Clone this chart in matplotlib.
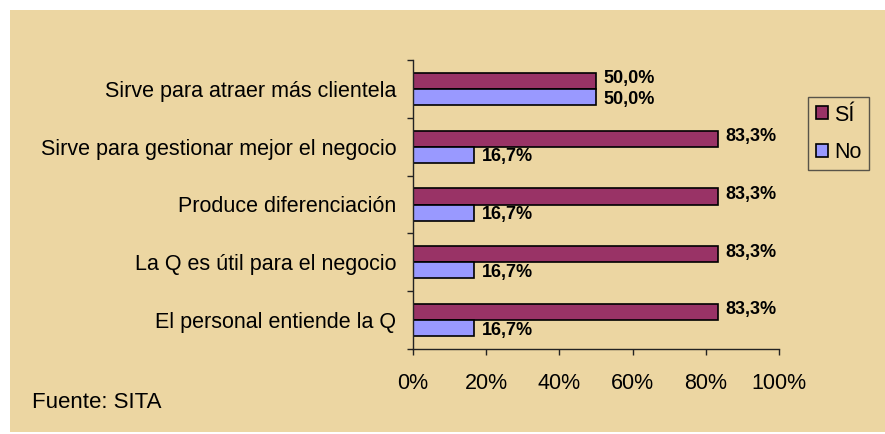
import matplotlib
matplotlib.use('Agg')
import matplotlib.pyplot as plt
import numpy as np
from matplotlib.patches import Rectangle

plt.rcParams['font.family'] = ['Liberation Sans', 'DejaVu Sans']

# datos
categorias = [
    'Sirve para atraer más clientela',
    'Sirve para gestionar mejor el negocio',
    'Produce diferenciación',
    'La Q es útil para el negocio',
    'El personal entiende la Q',
]
si = [50.0, 83.3, 83.3, 83.3, 83.3]
no = [50.0, 16.7, 16.7, 16.7, 16.7]
series = ['SÍ', 'No']
xticks = [0, 20, 40, 60, 80, 100]

fig = plt.figure(figsize=(8.85, 4.34), dpi=100, facecolor='white')

# fondo tipo papiro
fig.patches.append(Rectangle((10 / 885, 2 / 434), 1 - 10 / 885, 1 - 12 / 434,
                             transform=fig.transFigure, facecolor='#ECD6A2',
                             edgecolor='none', zorder=-1))

ax = fig.add_axes([413 / 885, 1 - 349 / 434, (779 - 413) / 885, (349 - 60) / 434])
ax.set_facecolor('none')

y = np.arange(len(categorias))
h = 0.28
b1 = ax.barh(y - h / 2, si, height=h, color='#993366', edgecolor='black', linewidth=1.2, label=series[0])
b2 = ax.barh(y + h / 2, no, height=h, color='#9999FF', edgecolor='black', linewidth=1.2, label=series[1])

# etiquetas de valor (Sí un poco arriba, No un poco abajo)
for bars, vals, dy in ((b1, si, 1.5), (b2, no, -1.5)):
    for bar, v in zip(bars, vals):
        ax.annotate(f'{v:.1f}%'.replace('.', ','),
                    (bar.get_width(), bar.get_y() + bar.get_height() / 2),
                    xytext=(5.5, dy), textcoords='offset points',
                    ha='left', va='center', fontsize=13, fontweight='bold')

ax.set_xlim(0, 100)
ax.set_ylim(len(categorias) - 0.5, -0.5)

ax.set_xticks(xticks, [f'{t}%' for t in xticks], fontsize=15.5)
ax.tick_params(axis='x', length=4.3, width=1, pad=13, color='#222222')

ax.set_yticks(np.arange(-0.5, len(categorias)), [''] * (len(categorias) + 1))
ax.tick_params(axis='y', which='major', length=4.3, width=1, color='#222222')
ax.set_yticks(y, categorias, minor=True)
ax.tick_params(axis='y', which='minor', length=0, pad=12, labelsize=15.5)

for s in ('top', 'right'):
    ax.spines[s].set_visible(False)
for s in ('left', 'bottom'):
    ax.spines[s].set_color('#222222')
    ax.spines[s].set_linewidth(1)

leg = fig.legend(handles=[b1, b2], labels=series, loc='upper right',
                 bbox_to_anchor=(869 / 885, 1 - 97 / 434), fontsize=15.5,
                 frameon=True, fancybox=False, handlelength=0.55, handleheight=0.55,
                 handletextpad=0.3, borderpad=0.35, labelspacing=0.75,
                 borderaxespad=0)
leg.get_frame().set_edgecolor('#333333')
leg.get_frame().set_facecolor('none')
leg.get_frame().set_linewidth(1)

fig.text(32 / 885, 1 - 402 / 434, 'Fuente: SITA', fontsize=16, ha='left', va='center')

fig.savefig('out.png', dpi=100, facecolor=fig.get_facecolor())
